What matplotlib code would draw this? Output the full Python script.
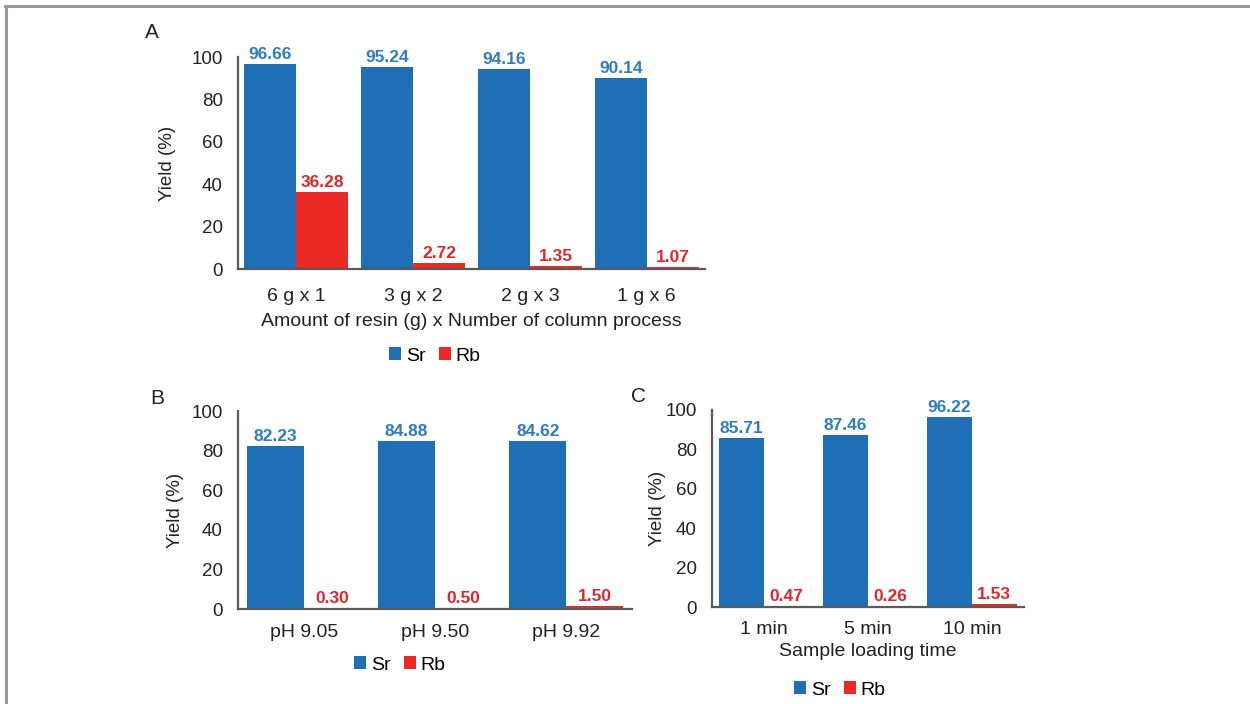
import numpy as np
import matplotlib.pyplot as plt
from matplotlib.lines import Line2D

plt.rcParams['font.family'] = ['Liberation Sans', 'DejaVu Sans']

# (A) resin amount x number of column passes
resin_labels = ['6 g x 1', '3 g x 2', '2 g x 3', '1 g x 6']
resin_sr = [96.66, 95.24, 94.16, 90.14]
resin_rb = [36.28, 2.72, 1.35, 1.07]

# (B) sample pH
ph_labels = ['pH 9.05', 'pH 9.50', 'pH 9.92']
ph_sr = [82.23, 84.88, 84.62]
ph_rb = [0.30, 0.50, 1.50]

# (C) sample loading time
time_labels = ['1 min', '5 min', '10 min']
time_sr = [85.71, 87.46, 96.22]
time_rb = [0.47, 0.26, 1.53]

SR_BAR = '#1f6fb6'
RB_BAR = '#ec2a25'
SR_TXT = '#2f7cc1'
RB_TXT = '#e3262c'
AXIS_GREY = '#5a5a5a'
TEXT = '#222222'

W, H = 1250, 704
fig = plt.figure(figsize=(W / 100, H / 100), dpi=100)

# grey frame along the top and left edge
fig.add_artist(Line2D([5 / W, 1], [1 - 6 / H, 1 - 6 / H], color='#9a9a9a', lw=2.2,
                      transform=fig.transFigure))
fig.add_artist(Line2D([6 / W, 6 / W], [0, 1 - 6 / H], color='#9a9a9a', lw=2.2,
                      transform=fig.transFigure))


def px_axes(left, top, right, bottom):
    return fig.add_axes([left / W, 1 - bottom / H, (right - left) / W, (bottom - top) / H])


def bar_panel(ax, labels, sr, rb, width, tick_pad):
    x = np.arange(len(labels))
    b1 = ax.bar(x - width / 2, sr, width, color=SR_BAR)
    b2 = ax.bar(x + width / 2, rb, width, color=RB_BAR)
    for bars, vals, col in ((b1, sr, SR_TXT), (b2, rb, RB_TXT)):
        for rect, v in zip(bars, vals):
            ax.annotate(f'{v:.2f}', (rect.get_x() + rect.get_width() / 2, v),
                        xytext=(0, 1.5), textcoords='offset points', ha='center', va='bottom',
                        color=col, fontsize=12.5, fontweight='bold')
    ax.set_xlim(-0.5, len(labels) - 0.5)
    ax.set_ylim(0, 100)
    ax.set_yticks([0, 20, 40, 60, 80, 100])
    ax.set_xticks(x)
    ax.set_xticklabels(labels)
    ax.tick_params(axis='both', length=0, colors=TEXT)
    ax.tick_params(axis='y', pad=11, labelsize=13.5)
    ax.tick_params(axis='x', pad=tick_pad, labelsize=14)
    for s in ['top', 'right']:
        ax.spines[s].set_visible(False)
    for s in ['left', 'bottom']:
        ax.spines[s].set_color(AXIS_GREY)
        ax.spines[s].set_linewidth(1.6)
    ax.set_ylabel('Yield (%)', fontsize=13.5, color=TEXT)
    ax.yaxis.label.set_va('center')
    return b1, b2


def panel_legend(ax, handles, cx, cy):
    ax.legend(handles, ['Sr', 'Rb'], loc='center', bbox_to_anchor=(cx / W, 1 - cy / H),
              bbox_transform=fig.transFigure, ncol=2, frameon=False, fontsize=14,
              handlelength=0.6, handleheight=0.6, handletextpad=0.25, columnspacing=0.7)


# panel A
axA = px_axes(238, 57, 705, 269)
hA = bar_panel(axA, resin_labels, resin_sr, resin_rb, 0.445, 14)
axA.yaxis.set_label_coords((168 - 238) / 467, 0.5)
axA.set_xlabel('Amount of resin (g) x Number of column process', fontsize=14, color=TEXT)
axA.xaxis.label.set_va('center')
axA.xaxis.set_label_coords(0.5, (269 - 321) / 212)
panel_legend(axA, hA, 435, 356)
fig.text(152 / W, 1 - 33 / H, 'A', fontsize=15, ha='center', va='center', color=TEXT)

# panel B
axB = px_axes(238, 411, 632, 609)
hB = bar_panel(axB, ph_labels, ph_sr, ph_rb, 0.435, 11)
axB.yaxis.set_label_coords((175 - 238) / 394, 0.5)
panel_legend(axB, hB, 400, 665)
fig.text(157 / W, 1 - 398 / H, 'B', fontsize=15, ha='center', va='center', color=TEXT)

# panel C
axC = px_axes(712, 410, 1024, 607)
hC = bar_panel(axC, time_labels, time_sr, time_rb, 0.43, 10)
axC.yaxis.set_label_coords((658 - 712) / 312, 0.5)
axC.set_xlabel('Sample loading time', fontsize=14, color=TEXT)
axC.xaxis.label.set_va('center')
axC.xaxis.set_label_coords(0.5, (607 - 652) / 197)
panel_legend(axC, hC, 840, 690)
fig.text(639 / W, 1 - 397 / H, 'C', fontsize=15, ha='center', va='center', color=TEXT)

fig.savefig('out.png', dpi=100)
